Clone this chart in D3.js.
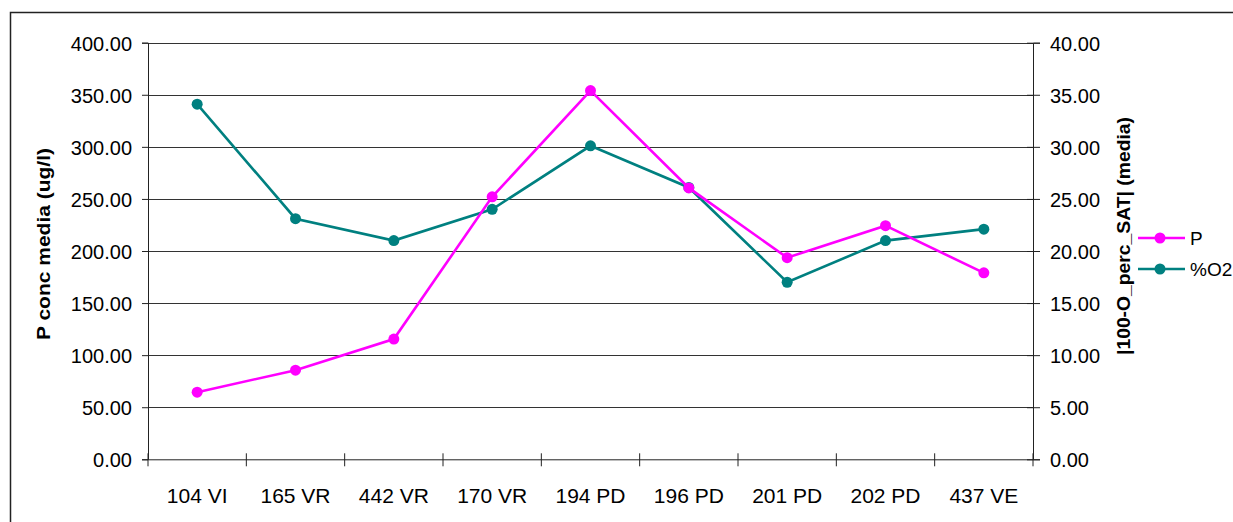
<!DOCTYPE html>
<html><head><meta charset="utf-8">
<script src="https://cdn.jsdelivr.net/npm/d3@7"></script>
<style>body{margin:0;background:#fff;} text{font-family:"Liberation Sans",Arial,sans-serif;}</style>
</head><body><svg id="c" width="1233" height="522"></svg>
<script>
const categories = ["104 VI","165 VR","442 VR","170 VR","194 PD","196 PD","201 PD","202 PD","437 VE"];
const pValues = [64.4, 85.6, 115.4, 252, 354, 260.6, 193.6, 224.3, 179];
const o2Values = [34.1, 23.1, 21.0, 24.0, 30.1, 26.1, 17.0, 21.0, 22.1];
const leftTicks = [0,50,100,150,200,250,300,350,400];
const rightTicks = [0,5,10,15,20,25,30,35,40];
const seriesNames = ["P","%O2"];
const seriesColors = ["#FF00FF","#008080"];

const svg = d3.select("#c");
const L = 148, R = 1033, T = 42.7, B = 459.3;
svg.append("rect").attr("x",10.5).attr("y",12.5).attr("width",1240).attr("height",520)
  .attr("fill","none").attr("stroke","#222").attr("stroke-width",1.5);

const x = d3.scaleBand().domain(categories).range([L,R]);
const yL = d3.scaleLinear().domain([0,400]).range([B,T]);
const yR = d3.scaleLinear().domain([0,40]).range([B,T]);

// gridlines
svg.append("g").selectAll("line").data(leftTicks.filter(d=>d>0)).join("line")
  .attr("x1",L).attr("x2",R).attr("y1",d=>Math.round(yL(d))+0.5).attr("y2",d=>Math.round(yL(d))+0.5)
  .attr("stroke","#333").attr("stroke-width",1);

// left axis
const gl = svg.append("g").attr("transform",`translate(${L},0)`)
  .call(d3.axisLeft(yL).tickValues(leftTicks).tickFormat(d3.format(".2f")).tickSizeOuter(0).tickSize(6).tickPadding(10));
gl.select(".domain").attr("stroke","#222");
gl.selectAll(".tick line").attr("stroke","#222");
gl.selectAll(".tick text").attr("font-size",20).attr("fill","#000").attr("font-family","Liberation Sans, Arial, sans-serif").attr("dy","0.38em");

// right axis
const gr = svg.append("g").attr("transform",`translate(${R},0)`)
  .call(d3.axisRight(yR).tickValues(rightTicks).tickFormat(d3.format(".2f")).tickSizeOuter(0).tickSize(7).tickPadding(10));
gr.select(".domain").attr("stroke","#222");
gr.selectAll(".tick line").attr("stroke","#222").attr("x1",-6);
gr.selectAll(".tick text").attr("font-size",20).attr("fill","#000").attr("font-family","Liberation Sans, Arial, sans-serif").attr("dy","0.38em");

// x axis
const gx = svg.append("g").attr("transform",`translate(0,${B})`)
  .call(d3.axisBottom(x).tickSize(0).tickPadding(29));
gx.select(".domain").attr("stroke","#222");
gx.selectAll(".tick text").attr("font-size",21).attr("fill","#000").attr("font-family","Liberation Sans, Arial, sans-serif");
// band boundary ticks
const bounds = categories.map(c=>x(c)).concat([R]);
svg.append("g").selectAll("line").data(bounds).join("line")
  .attr("x1",d=>d).attr("x2",d=>d).attr("y1",B-6).attr("y2",B+7).attr("stroke","#222");

// titles
svg.append("text").attr("transform","translate(50,244) rotate(-90)").attr("text-anchor","middle")
  .attr("font-size",19).attr("font-weight","bold").attr("textLength",192).attr("lengthAdjust","spacingAndGlyphs")
  .text("P conc media (ug/l)");
svg.append("text").attr("transform","translate(1130,236) rotate(-90)").attr("text-anchor","middle")
  .attr("font-size",19).attr("font-weight","bold").attr("textLength",238).attr("lengthAdjust","spacingAndGlyphs")
  .text("|100-O_perc_SAT| (media)");

// series
const cx = c => x(c) + x.bandwidth()/2;
const series = [
  {vals:pValues, scale:yL, color:seriesColors[0]},
  {vals:o2Values, scale:yR, color:seriesColors[1]}
];
[series[1], series[0]].forEach(s=>{
  const line = d3.line().x((d,i)=>cx(categories[i])).y(d=>s.scale(d));
  svg.append("path").datum(s.vals).attr("d",line).attr("fill","none").attr("stroke",s.color).attr("stroke-width",2.6);
  svg.append("g").selectAll("circle").data(s.vals).join("circle")
    .attr("cx",(d,i)=>cx(categories[i])).attr("cy",d=>s.scale(d)).attr("r",5.5).attr("fill",s.color);
});

// legend
const lg = svg.append("g");
seriesNames.forEach((n,i)=>{
  const yy = 238 + i*31;
  lg.append("line").attr("x1",1138).attr("x2",1185).attr("y1",yy).attr("y2",yy).attr("stroke",seriesColors[i]).attr("stroke-width",2.6);
  lg.append("circle").attr("cx",1160).attr("cy",yy).attr("r",5.5).attr("fill",seriesColors[i]);
  lg.append("text").attr("x",1190).attr("y",yy+7).attr("font-size",19).text(n);
});
</script></body></html>
